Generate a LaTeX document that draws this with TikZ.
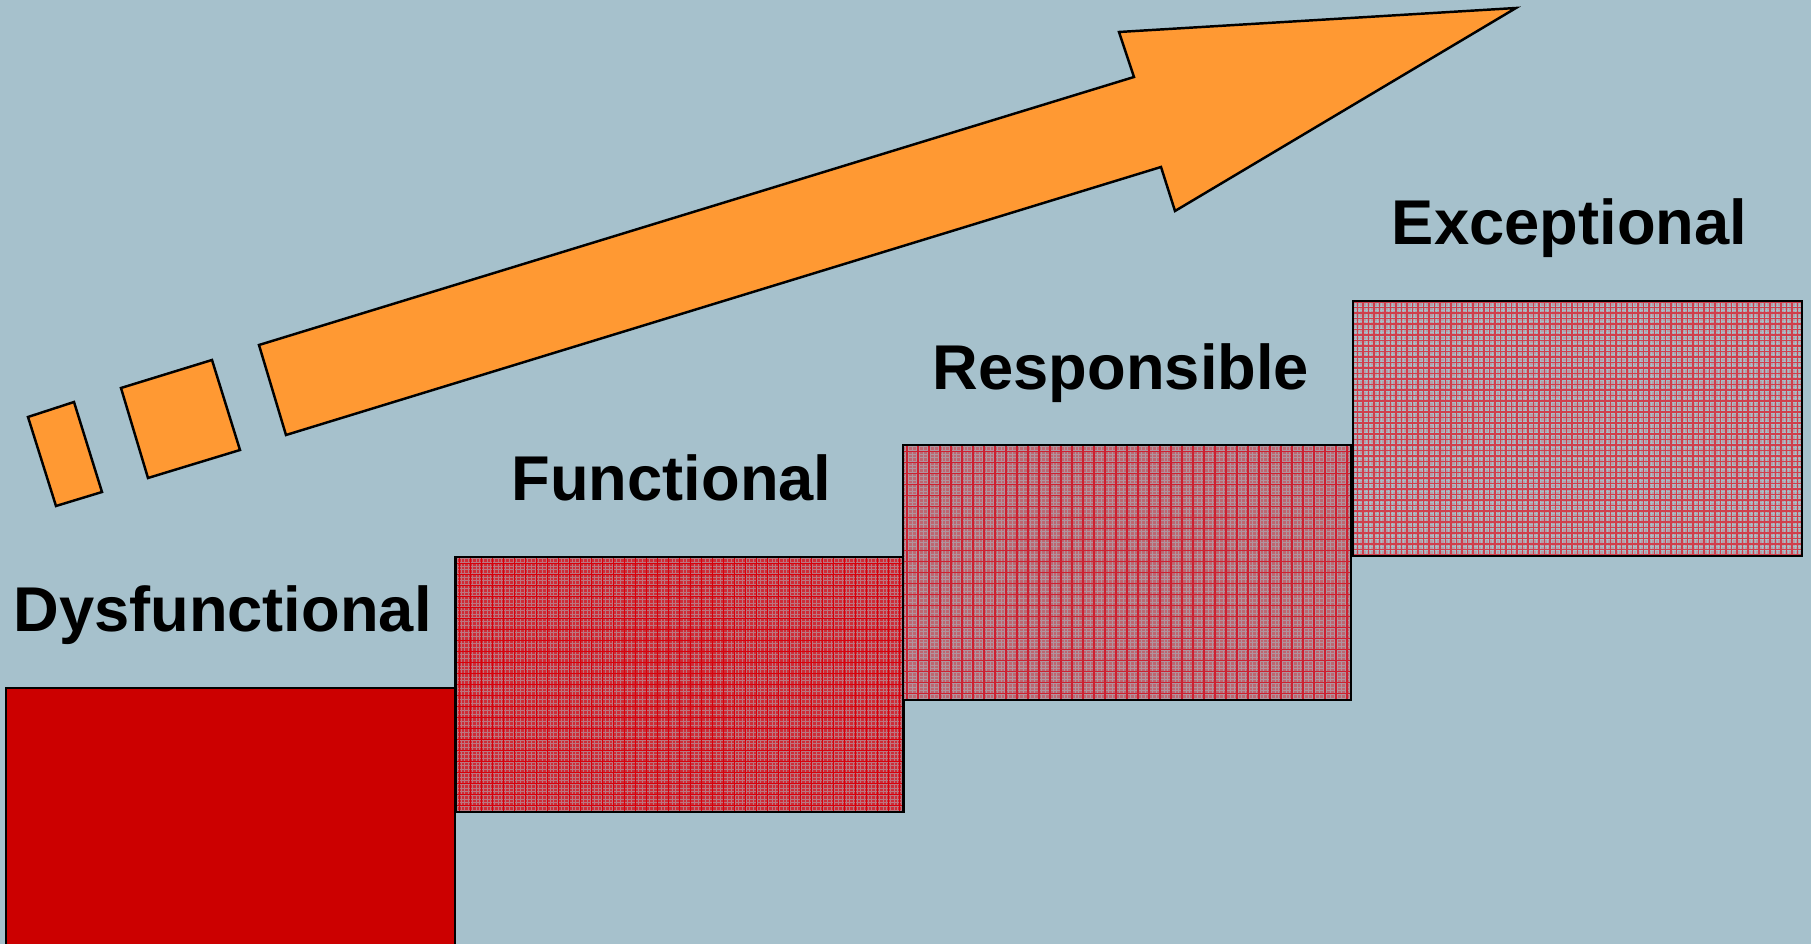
\documentclass[tikz,border=0pt]{standalone}
\usepackage{fontspec}
\setmainfont{Liberation Sans}
\usetikzlibrary{positioning}
\definecolor{bgblue}{RGB}{166,193,204}
\definecolor{arroworange}{RGB}{255,153,51}
\definecolor{deepred}{RGB}{204,0,0}
\definecolor{funcbase}{RGB}{206,44,54}
\definecolor{funcfine}{RGB}{188,118,128}
\definecolor{funcline}{RGB}{215,0,10}
\definecolor{respbase}{RGB}{190,102,112}
\definecolor{respfine}{RGB}{176,148,158}
\definecolor{respline}{RGB}{205,32,48}
\definecolor{excbase}{RGB}{182,158,168}
\definecolor{excfine}{RGB}{166,190,200}
\definecolor{excline}{RGB}{208,62,76}

\begin{document}
\begin{tikzpicture}[x=0.1mm,y=-0.1mm,line width=0.7pt,
  level box/.style={draw,inner sep=0pt,outer sep=0pt,minimum width=44.8mm,minimum height=25.5mm},
  grid fill/.style n args={4}{fill=#1,path picture={
      \draw[#2,line width=0.25pt] (path picture bounding box.south west) grid[step=0.37mm] (path picture bounding box.north east);
      \draw[#3,line width=0.45pt] (path picture bounding box.south west) grid[step=#4] (path picture bounding box.north east);}},
  level label/.style={anchor=base,font=\fontsize{18}{22}\selectfont\bfseries}]

  \useasboundingbox[fill=bgblue] (0,0) rectangle (1811,944);
  \clip (0,0) rectangle (1811,944);

  % the steps
  \node[level box,fill=deepred,minimum width=44.9mm,minimum height=26.2mm] (dys) at (230.5,819) {};
  \node[level box,grid fill={funcbase}{funcfine}{funcline}{1.1mm}] (func) at (679.5,684.5) {};
  \node[level box,grid fill={respbase}{respfine}{respline}{1.1mm}] (resp) at (1127,572.5) {};
  \node[level box,grid fill={excbase}{excfine}{excline}{0.55mm},minimum width=44.9mm] (exc) at (1577.5,428.5) {};

  \node[level label] (dysL) at ([xshift=-0.8mm,yshift=5.6mm]dys.north) {Dysfunctional};
  \node[level label] (funcL) at ([xshift=-0.8mm,yshift=5.6mm]func.north) {Functional};
  \node[level label] (respL) at ([xshift=-0.6mm,yshift=5.5mm]resp.north) {Responsible};
  \node[level label] (excL) at ([xshift=-0.8mm,yshift=5.6mm]exc.north) {Exceptional};

  % the arrow and its dashes
  \draw[fill=arroworange,line join=miter] (28,417) -- (74,402) -- (102,492) -- (56,506) -- cycle;
  \draw[fill=arroworange,line join=miter] (121,388) -- (212,360) -- (240,450) -- (148,478) -- cycle;
  \draw[fill=arroworange,line join=miter] (286,435) -- (259,345) -- (1134,77) -- (1119,32) -- (1516,8)
    -- (1175,211) -- (1161,167) -- cycle;
\end{tikzpicture}
\end{document}
